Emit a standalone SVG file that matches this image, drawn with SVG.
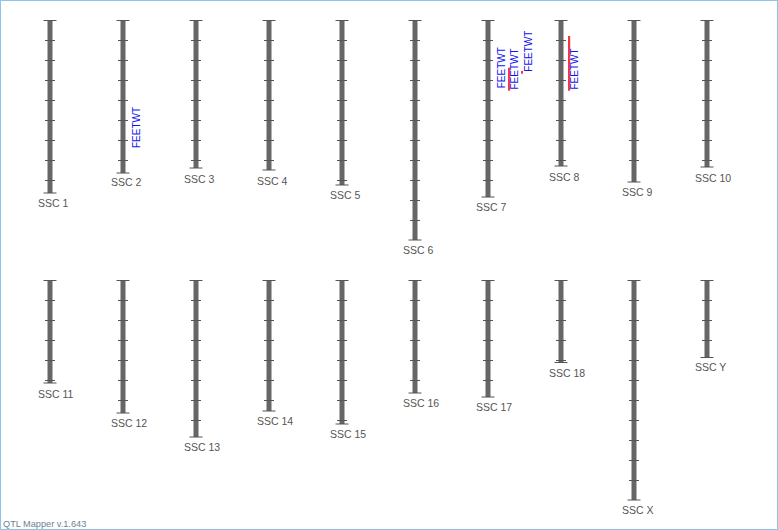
<svg xmlns="http://www.w3.org/2000/svg" width="778" height="530" viewBox="0 0 778 530">
<style>
.bar{fill:#666}
.tk{stroke:#555;stroke-width:1;fill:none}
.lbl{font-family:"Liberation Sans",Arial,sans-serif;font-size:10.5px;fill:#555}
.q{font-family:"Liberation Sans",Arial,sans-serif;font-size:10px;fill:#1414f0}
.qtl{fill:#f03a3a}
</style>
<rect x="0.5" y="0.5" width="777" height="529" fill="#fff" stroke="#8ec3ea" stroke-width="1"/>

<g id="chr1"><rect class="bar" x="47.5" y="20.5" width="5" height="172.5"/><path class="tk" d="M43.5 20.5h13M43.5 193h13M45 40.5h10m-10 20h10m-10 20h10m-10 20h10m-10 20h10m-10 20h10m-10 20h10m-10 20h10"/><text class="lbl" x="38" y="207">SSC 1</text></g>
<g id="chr2"><rect class="bar" x="120.5" y="20.5" width="5" height="152.5"/><path class="tk" d="M116.5 20.5h13M116.5 173h13M118 40.5h10m-10 20h10m-10 20h10m-10 20h10m-10 20h10m-10 20h10m-10 20h10"/><text class="lbl" x="111" y="186">SSC 2</text>
<text class="q" transform="translate(140,148) rotate(-90)">FEETWT</text></g>
<g id="chr3"><rect class="bar" x="193.5" y="20.5" width="5" height="147.5"/><path class="tk" d="M189.5 20.5h13M189.5 168h13M191 40.5h10m-10 20h10m-10 20h10m-10 20h10m-10 20h10m-10 20h10m-10 20h10"/><text class="lbl" x="184" y="183">SSC 3</text></g>
<g id="chr4"><rect class="bar" x="266.5" y="20.5" width="5" height="149.5"/><path class="tk" d="M262.5 20.5h13M262.5 170h13M264 40.5h10m-10 20h10m-10 20h10m-10 20h10m-10 20h10m-10 20h10m-10 20h10"/><text class="lbl" x="257" y="185">SSC 4</text></g>
<g id="chr5"><rect class="bar" x="339.5" y="20.5" width="5" height="164.5"/><path class="tk" d="M335.5 20.5h13M335.5 185h13M337 40.5h10m-10 20h10m-10 20h10m-10 20h10m-10 20h10m-10 20h10m-10 20h10m-10 20h10"/><text class="lbl" x="330" y="199">SSC 5</text></g>
<g id="chr6"><rect class="bar" x="412.5" y="20.5" width="5" height="219.5"/><path class="tk" d="M408.5 20.5h13M408.5 240h13M410 40.5h10m-10 20h10m-10 20h10m-10 20h10m-10 20h10m-10 20h10m-10 20h10m-10 20h10m-10 20h10m-10 20h10"/><text class="lbl" x="403" y="254">SSC 6</text></g>
<g id="chr7"><rect class="bar" x="485.5" y="20.5" width="5" height="176.5"/><path class="tk" d="M481.5 20.5h13M481.5 197h13M483 40.5h10m-10 20h10m-10 20h10m-10 20h10m-10 20h10m-10 20h10m-10 20h10m-10 20h10"/><text class="lbl" x="476" y="211">SSC 7</text>
<rect class="qtl" x="508" y="67.7" width="2.2" height="23"/>
<rect class="qtl" x="521" y="71" width="2" height="2.7"/>
<text class="q" transform="translate(505,88.3) rotate(-90)">FEETWT</text>
<text class="q" transform="translate(518.3,89.5) rotate(-90)">FEETWT</text>
<text class="q" transform="translate(531.7,71.7) rotate(-90)">FEETWT</text></g>
<g id="chr8"><rect class="bar" x="558.5" y="20.5" width="5" height="145.5"/><path class="tk" d="M554.5 20.5h13M554.5 166h13M556 40.5h10m-10 20h10m-10 20h10m-10 20h10m-10 20h10m-10 20h10m-10 20h10"/><text class="lbl" x="549" y="181">SSC 8</text>
<rect class="qtl" x="568" y="36" width="2.2" height="54.7"/>
<text class="q" transform="translate(578.3,89.5) rotate(-90)">FEETWT</text></g>
<g id="chr9"><rect class="bar" x="631.5" y="20.5" width="5" height="161.5"/><path class="tk" d="M627.5 20.5h13M627.5 182h13M629 40.5h10m-10 20h10m-10 20h10m-10 20h10m-10 20h10m-10 20h10m-10 20h10"/><text class="lbl" x="622" y="196">SSC 9</text></g>
<g id="chr10"><rect class="bar" x="704.5" y="20.5" width="5" height="146.5"/><path class="tk" d="M700.5 20.5h13M700.5 167h13M702 40.5h10m-10 20h10m-10 20h10m-10 20h10m-10 20h10m-10 20h10m-10 20h10"/><text class="lbl" x="695" y="182">SSC 10</text></g>

<g id="chr11"><rect class="bar" x="47.5" y="280.5" width="5" height="102.5"/><path class="tk" d="M43.5 280.5h13M43.5 383h13M45 300.5h10m-10 20h10m-10 20h10m-10 20h10m-10 20h10"/><text class="lbl" x="38" y="398">SSC 11</text></g>
<g id="chr12"><rect class="bar" x="120.5" y="280.5" width="5" height="132.5"/><path class="tk" d="M116.5 280.5h13M116.5 413h13M118 300.5h10m-10 20h10m-10 20h10m-10 20h10m-10 20h10m-10 20h10"/><text class="lbl" x="111" y="427">SSC 12</text></g>
<g id="chr13"><rect class="bar" x="193.5" y="280.5" width="5" height="156.5"/><path class="tk" d="M189.5 280.5h13M189.5 437h13M191 300.5h10m-10 20h10m-10 20h10m-10 20h10m-10 20h10m-10 20h10m-10 20h10"/><text class="lbl" x="184" y="451">SSC 13</text></g>
<g id="chr14"><rect class="bar" x="266.5" y="280.5" width="5" height="130.5"/><path class="tk" d="M262.5 280.5h13M262.5 411h13M264 300.5h10m-10 20h10m-10 20h10m-10 20h10m-10 20h10m-10 20h10"/><text class="lbl" x="257" y="425">SSC 14</text></g>
<g id="chr15"><rect class="bar" x="339.5" y="280.5" width="5" height="143.5"/><path class="tk" d="M335.5 280.5h13M335.5 424h13M337 300.5h10m-10 20h10m-10 20h10m-10 20h10m-10 20h10m-10 20h10m-10 20h10"/><text class="lbl" x="330" y="438">SSC 15</text></g>
<g id="chr16"><rect class="bar" x="412.5" y="280.5" width="5" height="112.5"/><path class="tk" d="M408.5 280.5h13M408.5 393h13M410 300.5h10m-10 20h10m-10 20h10m-10 20h10m-10 20h10"/><text class="lbl" x="403" y="407">SSC 16</text></g>
<g id="chr17"><rect class="bar" x="485.5" y="280.5" width="5" height="116.5"/><path class="tk" d="M481.5 280.5h13M481.5 397h13M483 300.5h10m-10 20h10m-10 20h10m-10 20h10m-10 20h10"/><text class="lbl" x="476" y="411">SSC 17</text></g>
<g id="chr18"><rect class="bar" x="558.5" y="280.5" width="5" height="82"/><path class="tk" d="M554.5 280.5h13M554.5 362.5h13M556 300.5h10m-10 20h10m-10 20h10m-10 20h10"/><text class="lbl" x="549" y="377">SSC 18</text></g>
<g id="chrX"><rect class="bar" x="631.5" y="280.5" width="5" height="219.5"/><path class="tk" d="M627.5 280.5h13M627.5 500h13M629 300.5h10m-10 20h10m-10 20h10m-10 20h10m-10 20h10m-10 20h10m-10 20h10m-10 20h10m-10 20h10m-10 20h10"/><text class="lbl" x="622" y="514">SSC X</text></g>
<g id="chrY"><rect class="bar" x="704.5" y="280.5" width="5" height="77"/><path class="tk" d="M700.5 280.5h13M700.5 357.5h13M702 300.5h10m-10 20h10m-10 20h10"/><text class="lbl" x="695" y="371">SSC Y</text></g>

<g id="connectors"></g>
<text x="3" y="526.5" style="font-family:'Liberation Sans',Arial,sans-serif;font-size:9.2px;fill:#6a7f95">QTL Mapper v.1.643</text>
</svg>
